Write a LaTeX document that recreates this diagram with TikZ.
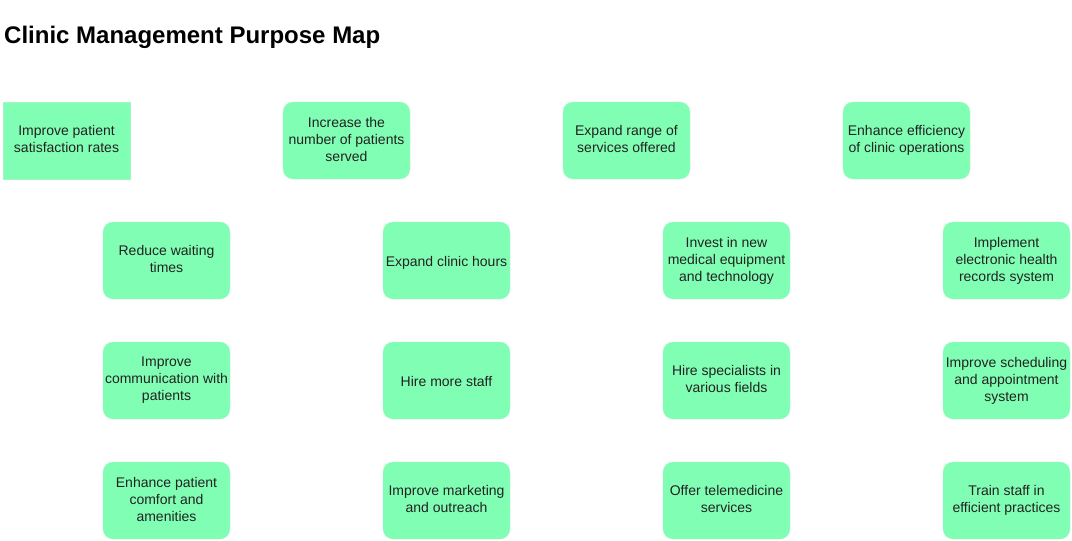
\documentclass[tikz,border=0pt]{standalone}
\usepackage{fontspec}
\setmainfont{Liberation Sans}
\usetikzlibrary{positioning}

\definecolor{goalfill}{HTML}{80FFB4}
\definecolor{goalline}{HTML}{A6F5C6}
\definecolor{goaltext}{HTML}{222222}

\newcommand\goalstrut{\rule[-2.5pt]{0pt}{17pt}}

\tikzset{
  goal/.style={rectangle,rounded corners=10pt,fill=goalfill,draw=goalline,very thin,
    minimum width=127pt,minimum height=77pt,inner sep=0pt,align=center,
    text=goaltext,font=\fontsize{14}{17}\selectfont,
    execute at begin node=\goalstrut,execute at end node=\goalstrut},
  goalsq/.style={goal,sharp corners}
}

\begin{document}
\begin{tikzpicture}[x=1pt,y=-1pt]
\useasboundingbox (0,0) rectangle (1072,541);
\node[anchor=base west,inner sep=0pt,font=\fontsize{24}{28}\selectfont\bfseries] (title) at (4,43) {Clinic Management Purpose Map};

% top row
\node[goalsq] (satisfaction) at (66.5,140.5) {Improve patient\\satisfaction rates};
\node[goal] (patients) at (346.5,140.5) {Increase the\\number of patients\\served};
\node[goal] (services) at (626.5,140.5) {Expand range of\\services offered};
\node[goal] (efficiency) at (906.5,140.5) {Enhance efficiency\\of clinic operations};

% first column
\node[goal] (waiting) at (166.5,260.5) {Reduce waiting\\times};
\node[goal] (communication) at (166.5,380.5) {Improve\\communication with\\patients};
\node[goal] (comfort) at (166.5,500.5) {Enhance patient\\comfort and\\amenities};

% second column
\node[goal] (hours) at (446.5,260.5) {Expand clinic hours};
\node[goal] (staff) at (446.5,380.5) {Hire more staff};
\node[goal] (marketing) at (446.5,500.5) {Improve marketing\\and outreach};

% third column
\node[goal] (equipment) at (726.5,260.5) {Invest in new\\medical equipment\\and technology};
\node[goal] (specialists) at (726.5,380.5) {Hire specialists in\\various fields};
\node[goal] (telemedicine) at (726.5,500.5) {Offer telemedicine\\services};

% fourth column
\node[goal] (records) at (1006.5,260.5) {Implement\\electronic health\\records system};
\node[goal] (scheduling) at (1006.5,380.5) {Improve scheduling\\and appointment\\system};
\node[goal] (training) at (1006.5,500.5) {Train staff in\\efficient practices};

\end{tikzpicture}
\end{document}
